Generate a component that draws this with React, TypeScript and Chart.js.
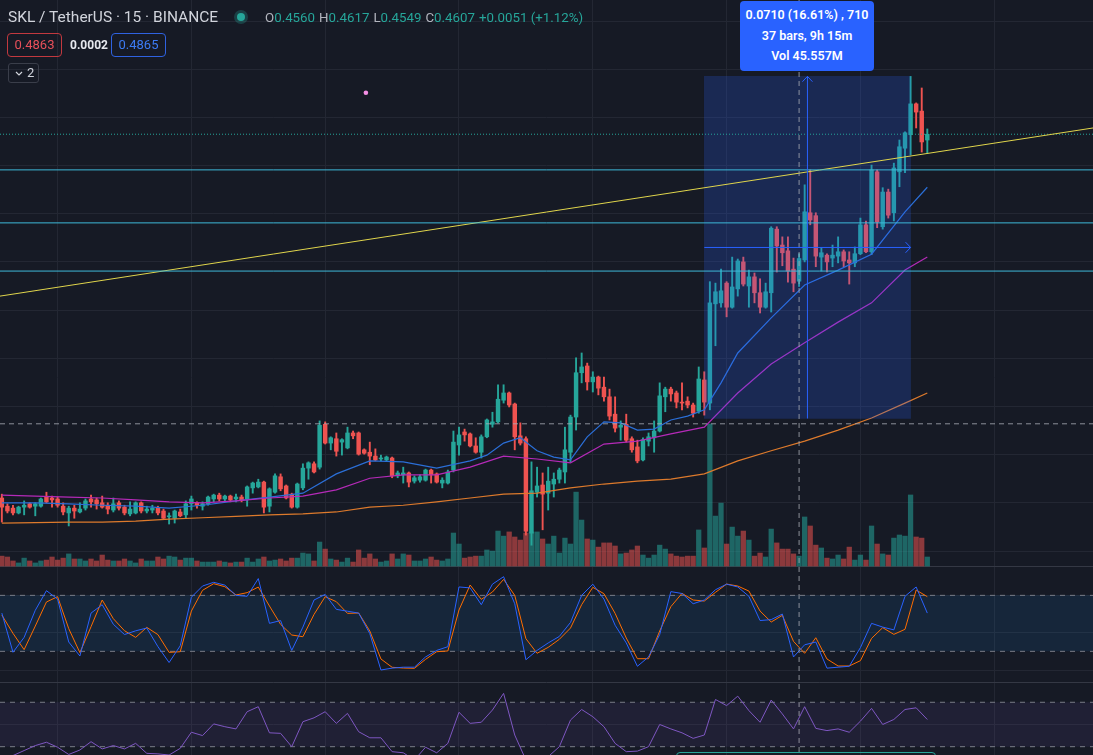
import React, { useEffect, useRef } from "react";
import { Chart, registerables } from "chart.js";

Chart.register(...registerables);

// ---------------- DATA (15m SKL / TetherUS, Binance) ----------------
const opens = [
  0.4110,0.4093,0.4089,0.4079,0.4091,0.4098,0.4093,0.4093,0.4112,0.4110,
  0.4108,0.4093,0.4079,0.4089,0.4081,0.4089,0.4108,0.4106,0.4100,0.4095,
  0.4085,0.4100,0.4091,0.4077,0.4079,0.4100,0.4083,0.4085,0.4089,0.4083,
  0.4071,0.4068,0.4081,0.4075,0.4098,0.4100,0.4093,0.4098,0.4108,0.4116,
  0.4108,0.4114,0.4108,0.4112,0.4108,0.4131,0.4133,0.4143,0.4093,0.4122,
  0.4154,0.4135,0.4118,0.4091,0.4131,0.4172,0.4181,0.4174,0.4263,0.4224,
  0.4233,0.4226,0.4214,0.4245,0.4245,0.4210,0.4205,0.4197,0.4191,0.4189,
  0.4193,0.4156,0.4158,0.4162,0.4145,0.4147,0.4147,0.4168,0.4160,0.4141,
  0.4141,0.4168,0.4220,0.4247,0.4243,0.4218,0.4205,0.4237,0.4263,0.4268,
  0.4313,0.4328,0.4305,0.4239,0.4233,0.4037,0.4122,0.4137,0.4120,0.4139,
  0.4149,0.4164,0.4205,0.4278,0.4370,0.4384,0.4351,0.4361,0.4340,0.4320,
  0.4284,0.4257,0.4263,0.4233,0.4216,0.4189,0.4228,0.4235,0.4249,0.4320,
  0.4336,0.4328,0.4309,0.4311,0.4303,0.4290,0.4355,0.4307,0.4513,0.4515,
  0.4556,0.4506,0.4544,0.4600,0.4550,0.4569,0.4536,0.4506,0.4536,0.4668,
  0.4635,0.4623,0.4585,0.4560,0.4604,0.4702,0.4696,0.4610,0.4614,0.4608,
  0.4612,0.4621,0.4604,0.4598,0.4617,0.4677,0.4621,0.4787,0.4673,0.4745,
  0.4702,0.4787,0.4836,0.4864,0.4928,0.4913,0.4853,
];
const highs = [
  0.4118,0.4098,0.4095,0.4093,0.4104,0.4100,0.4100,0.4110,0.4122,0.4114,
  0.4112,0.4100,0.4093,0.4095,0.4100,0.4108,0.4116,0.4110,0.4114,0.4100,
  0.4110,0.4104,0.4095,0.4102,0.4102,0.4102,0.4093,0.4095,0.4093,0.4087,
  0.4079,0.4085,0.4087,0.4104,0.4114,0.4102,0.4102,0.4114,0.4118,0.4120,
  0.4116,0.4116,0.4118,0.4116,0.4135,0.4143,0.4149,0.4145,0.4131,0.4160,
  0.4160,0.4137,0.4120,0.4141,0.4181,0.4185,0.4185,0.4270,0.4268,0.4237,
  0.4245,0.4233,0.4257,0.4249,0.4247,0.4212,0.4226,0.4212,0.4199,0.4197,
  0.4195,0.4166,0.4174,0.4164,0.4156,0.4158,0.4170,0.4170,0.4162,0.4152,
  0.4168,0.4249,0.4257,0.4253,0.4245,0.4235,0.4241,0.4274,0.4288,0.4345,
  0.4345,0.4330,0.4307,0.4266,0.4237,0.4185,0.4174,0.4162,0.4174,0.4162,
  0.4172,0.4257,0.4282,0.4401,0.4411,0.4390,0.4372,0.4363,0.4361,0.4336,
  0.4320,0.4270,0.4284,0.4237,0.4230,0.4235,0.4245,0.4270,0.4349,0.4340,
  0.4340,0.4332,0.4349,0.4320,0.4307,0.4382,0.4372,0.4559,0.4556,0.4585,
  0.4559,0.4610,0.4606,0.4610,0.4583,0.4577,0.4565,0.4556,0.4673,0.4673,
  0.4652,0.4652,0.4608,0.4617,0.4760,0.4791,0.4702,0.4629,0.4617,0.4635,
  0.4652,0.4625,0.4621,0.4631,0.4691,0.4685,0.4801,0.4791,0.4754,0.4751,
  0.4805,0.4853,0.4870,0.4985,0.4930,0.4961,0.4876,
];
const lows = [
  0.4060,0.4079,0.4075,0.4077,0.4075,0.4089,0.4073,0.4091,0.4100,0.4091,
  0.4091,0.4075,0.4052,0.4068,0.4079,0.4085,0.4091,0.4087,0.4089,0.4077,
  0.4081,0.4085,0.4075,0.4073,0.4077,0.4079,0.4079,0.4079,0.4075,0.4066,
  0.4056,0.4058,0.4071,0.4068,0.4085,0.4089,0.4085,0.4095,0.4102,0.4104,
  0.4104,0.4102,0.4102,0.4102,0.4093,0.4120,0.4131,0.4079,0.4081,0.4120,
  0.4125,0.4108,0.4089,0.4089,0.4127,0.4149,0.4162,0.4170,0.4222,0.4210,
  0.4197,0.4199,0.4212,0.4233,0.4199,0.4201,0.4179,0.4187,0.4187,0.4187,
  0.4152,0.4152,0.4141,0.4133,0.4141,0.4143,0.4145,0.4141,0.4141,0.4131,
  0.4139,0.4164,0.4199,0.4228,0.4216,0.4203,0.4193,0.4235,0.4257,0.4266,
  0.4307,0.4299,0.4210,0.4220,0.4033,0.4012,0.4112,0.4044,0.4085,0.4112,
  0.4141,0.4141,0.4185,0.4251,0.4349,0.4334,0.4330,0.4324,0.4311,0.4272,
  0.4247,0.4230,0.4226,0.4205,0.4183,0.4187,0.4218,0.4205,0.4247,0.4289,
  0.4311,0.4297,0.4293,0.4297,0.4278,0.4286,0.4282,0.4293,0.4426,0.4506,
  0.4486,0.4504,0.4529,0.4550,0.4506,0.4515,0.4494,0.4504,0.4496,0.4579,
  0.4592,0.4558,0.4538,0.4549,0.4600,0.4677,0.4590,0.4581,0.4579,0.4590,
  0.4598,0.4590,0.4554,0.4590,0.4615,0.4619,0.4615,0.4671,0.4668,0.4691,
  0.4685,0.4756,0.4785,0.4822,0.4878,0.4828,0.4826,
];
const closes = [
  0.4091,0.4083,0.4079,0.4091,0.4095,0.4091,0.4098,0.4108,0.4102,0.4106,
  0.4095,0.4081,0.4089,0.4083,0.4087,0.4104,0.4102,0.4098,0.4091,0.4087,
  0.4098,0.4089,0.4079,0.4087,0.4100,0.4083,0.4087,0.4089,0.4079,0.4068,
  0.4073,0.4083,0.4073,0.4098,0.4108,0.4095,0.4098,0.4112,0.4116,0.4108,
  0.4114,0.4106,0.4112,0.4106,0.4133,0.4141,0.4143,0.4091,0.4129,0.4156,
  0.4129,0.4110,0.4091,0.4139,0.4172,0.4183,0.4164,0.4261,0.4224,0.4235,
  0.4207,0.4231,0.4245,0.4239,0.4201,0.4203,0.4197,0.4189,0.4193,0.4195,
  0.4156,0.4162,0.4162,0.4143,0.4152,0.4154,0.4168,0.4158,0.4143,0.4147,
  0.4164,0.4226,0.4241,0.4241,0.4218,0.4205,0.4237,0.4272,0.4268,0.4315,
  0.4328,0.4303,0.4237,0.4224,0.4041,0.4125,0.4135,0.4118,0.4145,0.4149,
  0.4168,0.4210,0.4278,0.4370,0.4382,0.4351,0.4361,0.4338,0.4320,0.4280,
  0.4255,0.4261,0.4230,0.4210,0.4187,0.4231,0.4237,0.4249,0.4322,0.4336,
  0.4326,0.4309,0.4307,0.4303,0.4286,0.4357,0.4309,0.4515,0.4538,0.4540,
  0.4506,0.4548,0.4602,0.4554,0.4569,0.4536,0.4506,0.4538,0.4670,0.4633,
  0.4619,0.4581,0.4556,0.4607,0.4704,0.4687,0.4612,0.4619,0.4600,0.4614,
  0.4621,0.4602,0.4598,0.4617,0.4677,0.4621,0.4791,0.4683,0.4745,0.4697,
  0.4795,0.4839,0.4868,0.4928,0.4911,0.4849,0.4865,
];
// volume, millions
const volumes = [
  0.45,0.41,0.23,0.14,0.36,0.23,0.14,0.23,0.27,0.41,
  0.27,0.36,0.55,0.32,0.32,0.23,0.32,0.23,0.50,0.27,
  0.23,0.23,0.32,0.23,0.14,0.32,0.23,0.23,0.41,0.32,
  0.45,0.41,0.27,0.36,0.36,0.23,0.18,0.18,0.18,0.23,
  0.18,0.14,0.18,0.18,0.36,0.18,0.32,0.41,0.23,0.27,
  0.32,0.23,0.36,0.36,0.59,0.55,0.23,1.09,0.77,0.32,
  0.27,0.18,0.36,0.18,0.73,0.36,0.55,0.32,0.18,0.23,
  0.55,0.32,0.55,0.50,0.23,0.23,0.32,0.41,0.27,0.23,
  0.32,1.50,1.00,0.36,0.41,0.45,0.45,0.73,0.68,1.59,
  1.36,1.55,1.32,1.18,1.50,1.55,1.55,1.23,1.00,1.36,
  0.59,1.27,1.00,3.36,2.09,1.23,1.18,0.86,1.05,1.05,
  0.91,0.55,0.59,0.73,0.91,0.50,0.36,0.50,0.95,0.77,
  0.55,0.45,0.41,0.45,0.45,1.64,0.82,6.45,2.27,2.86,
  1.00,1.77,1.36,1.59,1.18,0.45,0.59,0.41,1.68,1.05,
  0.77,0.77,0.55,0.45,2.23,1.82,0.95,0.82,0.36,0.32,
  0.50,0.32,0.86,0.27,0.50,0.27,1.82,1.00,0.55,0.50,
  1.27,1.41,1.36,3.23,1.32,1.27,0.41,
];

// moving averages (bar index -> value)
const maIdx = [0,6,12,18,24,30,36,42,48,54,60,66,72,78,84,90,96,102,108,114,120,126,132,138,144,150,156,162,166];
const maSlow = [0.4058,0.4059,0.4060,0.4060,0.4062,0.4066,0.4069,0.4072,0.4075,0.4077,0.4081,0.4091,0.4095,0.4102,0.4110,0.4118,0.4120,0.4131,0.4139,0.4145,0.4149,0.4160,0.4187,0.4208,0.4228,0.4251,0.4276,0.4307,0.4328];
const maMid = [0.4116,0.4114,0.4112,0.4110,0.4106,0.4102,0.4100,0.4104,0.4110,0.4114,0.4127,0.4151,0.4158,0.4158,0.4174,0.4197,0.4191,0.4183,0.4222,0.4228,0.4243,0.4257,0.4328,0.4388,0.4432,0.4475,0.4515,0.4583,0.4610];
const emaIdx = [0,6,12,18,24,30,36,42,48,54,60,66,72,78,84,87,90,93,96,99,102,105,108,111,114,117,120,123,126,129,132,138,144,150,156,162,166];
const maFast = [0.4100,0.4100,0.4098,0.4095,0.4093,0.4089,0.4095,0.4104,0.4112,0.4120,0.4160,0.4187,0.4185,0.4172,0.4187,0.4199,0.4224,0.4235,0.4208,0.4195,0.4189,0.4237,0.4268,0.4266,0.4251,0.4253,0.4272,0.4280,0.4293,0.4349,0.4411,0.4484,0.4552,0.4583,0.4616,0.4704,0.4755];

// oscillators, sampled every second bar (0,2,4 ... 166)
const stochK = [61,19,35,64,85,76,30,15,61,70,49,38,42,45,25,8,26,78,90,94,91,80,79,98,50,53,21,46,75,81,65,63,61,39,0,2,3,3,14,21,25,89,88,70,92,100,71,11,21,
  29,36,51,80,92,76,48,29,4,14,38,84,82,71,75,86,92,89,79,53,54,60,14,27,30,2,3,4,24,50,46,43,79,89,61];
const stochD = [58.9,39.3,21.8,47.1,72.9,78.6,44.3,18.6,46.4,75,55,42.1,35,45.7,37.9,18.9,19.6,63.2,85.4,92.5,89.3,80.4,82.9,88.9,68.6,48.9,37.5,35.7,59.6,78.6,73.2,60.7,61.1,41.8,11.8,2.9,2.1,1.8,11.4,19.6,20.4,64.3,91.1,75.7,83.6,97.1,80,33.6,17.9,
  24.3,32.9,45,70,88.6,81.8,60.7,34.3,12.1,12.1,41.8,67.9,82.1,75,73.9,83.2,92.1,90,84.6,63.2,51.4,58.6,30.7,17.9,34.6,11.8,4.3,4.3,10,33.9,45.4,38.2,43.6,85.7,78.6];
const rsi = [18,22,26.5,31,34,29.5,23,27,34.5,28,31,28,33,24,23.5,22.5,28.5,43,40,50.5,48,46,61.5,66,42.5,42,30,52.5,56,61.5,51,60,43.5,38,38,25.5,24.5,18,29.5,24.5,33,61,51,52,63,78,40.5,18,15,
  21,30,54,63.5,57,48,33,25.5,26,30,50,46,42.5,37.5,40.5,72.5,67,75.5,62.5,52,72,59.5,46,66,46.5,44.5,46,43,53,64.5,50,54.5,63.5,65,54.5];

// drawings / reference values
const levelPrices = [0.4791, 0.4681, 0.4581];
const trendFrom = 0.4529;
const trendTo = 0.4878;
const lastPrice = 0.4865;
const bidPrice = "0.4863";
const spread = "0.0002";
const askPrice = "0.4865";
const crossBar = 143;
const crossPrice = 0.4264;
const measureFrom = 126;
const measureTo = 163;
const measureLow = 0.4275;
const measureHigh = 0.4985;
const measureVolume = "45.557M";
const markerPoint = { x: 65.3, y: 0.4951 };

const priceGrid = [0.40, 0.41, 0.42, 0.43, 0.44, 0.45, 0.46, 0.47, 0.48, 0.49, 0.50, 0.51];
const timeGrid = [22, 46, 70, 94, 118, 142, 166, 190];
const stochGrid = [0, 40, 80];
const rsiGrid = [50];

// ---------------- LAYOUT ----------------
const W = 1093;
const H = 755;
const X_MIN = -0.33, X_MAX = 195.72;
const PRICE_MIN = 0.35766, PRICE_MAX = 0.51436;
const VOL_MIN = -8.59, VOL_MAX = 25.73;
const ST_MIN = -91.1, ST_MAX = 718.1;
const RSI_MIN = 22.5, RSI_MAX = 702.7;
const PANE_SEP_TOP = 110.9;
const PANE_SEP_BOTTOM = -12.9;

const BG = "#161a25";
const GRID = "#232733";
const SEP = "#343844";
const TEAL = "#26a69a";
const RED = "#ef5350";
const DASH = "#787b86";
const CROSS = "rgba(170,173,182,0.8)";
const ARROW = "#2962ff";
const FONT = "Roboto, 'Noto Sans', Arial, sans-serif";

export default function App() {
  const canvasRef = useRef<HTMLCanvasElement | null>(null);

  useEffect(() => {
    const canvas = canvasRef.current;
    if (!canvas) return;
    const barIdx = opens.map((_, i) => i);
    const up = barIdx.map((i) => closes[i] >= opens[i]);
    const candleCol = up.map((u) => (u ? TEAL : RED));
    const volCol = up.map((u) => (u ? "rgba(38,166,154,0.55)" : "rgba(239,83,80,0.55)"));
    const span = (v: number) => [{ x: X_MIN, y: v }, { x: X_MAX, y: v }];
    const ln = (o: any) => ({ type: "line", pointRadius: 0, borderWidth: 1, tension: 0, fill: false, ...o });
    const oscIdx: number[] = [];
    for (let i = 0; i < opens.length; i += 2) oscIdx.push(i);
    const pxPerBar = W / (X_MAX - X_MIN);
    const mid = (measureFrom + measureTo) / 2;
    const midPrice = (measureLow + measureHigh) / 2;
    const headX = 0.9;
    const headY = 0.0011;

    const datasets: any[] = [
      ln({ yAxisID: "yS", data: span(80), borderColor: DASH, borderDash: [5, 5], order: 30 }),
      ln({ yAxisID: "yS", data: span(20), borderColor: DASH, borderDash: [5, 5], fill: "-1", backgroundColor: "rgba(33,150,243,0.1)", order: 30 }),
      ln({ yAxisID: "yR", data: span(70), borderColor: DASH, borderDash: [5, 5], order: 30 }),
      ln({ yAxisID: "yR", data: span(30), borderColor: DASH, borderDash: [5, 5], fill: "-1", backgroundColor: "rgba(126,87,194,0.1)", order: 30 }),
      {
        type: "bar", yAxisID: "yV", grouped: false, barThickness: 4.6, order: 25,
        data: barIdx.map((i) => ({ x: i, y: volumes[i] })), backgroundColor: volCol,
      },
      {
        type: "bar", yAxisID: "yP", grouped: false, barThickness: 1.25, order: 21,
        data: barIdx.map((i) => ({ x: i, y: [lows[i], highs[i]] })), backgroundColor: candleCol,
      },
      {
        type: "bar", yAxisID: "yP", grouped: false, barThickness: 3.8, minBarLength: 1, order: 20,
        data: barIdx.map((i) => ({ x: i, y: [opens[i], closes[i]] })), backgroundColor: candleCol,
      },
      ln({ yAxisID: "yP", data: maIdx.map((x, k) => ({ x, y: maSlow[k] })), borderColor: "#dd7a2c", borderWidth: 1.2, order: 15 }),
      ln({ yAxisID: "yP", data: maIdx.map((x, k) => ({ x, y: maMid[k] })), borderColor: "#b52ab8", borderWidth: 1.2, order: 15 }),
      ln({ yAxisID: "yP", data: emaIdx.map((x, k) => ({ x, y: maFast[k] })), borderColor: "#2b6fd8", borderWidth: 1.2, order: 15 }),
      ln({ yAxisID: "yS", data: oscIdx.map((x, k) => ({ x, y: stochD[k] })), borderColor: "#ff6d00", order: 14 }),
      ln({ yAxisID: "yS", data: oscIdx.map((x, k) => ({ x, y: stochK[k] })), borderColor: "#2962ff", order: 13 }),
      ln({ yAxisID: "yR", data: oscIdx.map((x, k) => ({ x, y: rsi[k] })), borderColor: "#7e57c2", order: 13 }),
      {
        type: "bar", yAxisID: "yP", grouped: false, order: 8,
        barThickness: (measureTo - measureFrom) * pxPerBar,
        data: [{ x: mid, y: [measureLow, measureHigh] }], backgroundColor: "rgba(41,98,255,0.21)",
      },
      ...levelPrices.map((p) => ln({ yAxisID: "yP", data: span(p), borderColor: "#3eb9d8", order: 6 })),
      ln({ yAxisID: "yP", data: [{ x: X_MIN, y: trendFrom }, { x: X_MAX, y: trendTo }], borderColor: "#e0d54c", order: 6 }),
      ln({ yAxisID: "yP", data: span(lastPrice), borderColor: TEAL, borderDash: [1, 2], order: 6 }),
      ln({ yAxisID: "yP", data: span(crossPrice), borderColor: CROSS, borderDash: [5, 4], order: 5 }),
      ln({ yAxisID: "yP", data: [{ x: crossBar, y: PRICE_MAX }, { x: crossBar, y: PRICE_MIN }], borderColor: CROSS, borderDash: [5, 4], order: 5 }),
      ln({ yAxisID: "yP", data: [{ x: mid, y: measureLow }, { x: mid, y: measureHigh }], borderColor: ARROW, order: 4 }),
      ln({ yAxisID: "yP", data: [{ x: mid - headX, y: measureHigh - headY }, { x: mid, y: measureHigh }, { x: mid + headX, y: measureHigh - headY }], borderColor: ARROW, order: 4 }),
      ln({ yAxisID: "yP", data: [{ x: measureFrom, y: midPrice }, { x: measureTo, y: midPrice }], borderColor: ARROW, order: 4 }),
      ln({ yAxisID: "yP", data: [{ x: measureTo - headX, y: midPrice + headY }, { x: measureTo, y: midPrice }, { x: measureTo - headX, y: midPrice - headY }], borderColor: ARROW, order: 4 }),
      { type: "scatter", yAxisID: "yP", data: [markerPoint], pointRadius: 2.3, backgroundColor: "#f48fe4", borderWidth: 0, order: 3 },
    ];

    const hidden = { display: false };
    const yBase = (min: number, max: number, ticks: number[], color: any) => ({
      type: "linear", position: "right", min, max,
      ticks: { display: false },
      border: hidden,
      grid: { color, drawTicks: false, lineWidth: 1 },
      afterBuildTicks: (s: any) => { s.ticks = ticks.map((v) => ({ value: v })); },
      afterFit: (s: any) => { s.width = 0; },
    });

    const chart = new Chart(canvas, {
      type: "line",
      data: { datasets },
      options: {
        animation: false,
        responsive: false,
        events: [],
        layout: { padding: 0, autoPadding: false },
        plugins: { legend: { display: false }, tooltip: { enabled: false } },
        scales: {
          x: {
            type: "linear", min: X_MIN, max: X_MAX, offset: false,
            ticks: { display: false }, border: hidden,
            grid: { color: GRID, drawTicks: false, lineWidth: 1 },
            afterBuildTicks: (s: any) => { s.ticks = timeGrid.map((v) => ({ value: v })); },
            afterFit: (s: any) => { s.height = 0; },
          },
          yP: yBase(PRICE_MIN, PRICE_MAX, priceGrid, GRID),
          yV: { type: "linear", display: false, min: VOL_MIN, max: VOL_MAX },
          yS: yBase(ST_MIN, ST_MAX, [PANE_SEP_TOP, ...stochGrid, PANE_SEP_BOTTOM], (c: any) =>
            c.tick && (c.tick.value === PANE_SEP_TOP || c.tick.value === PANE_SEP_BOTTOM) ? SEP : GRID),
          yR: yBase(RSI_MIN, RSI_MAX, rsiGrid, GRID),
        },
      } as any,
    } as any);
    return () => chart.destroy();
  }, []);

  const b = crossBar;
  const chg = closes[b] - closes[b - 1];
  const pct = (chg / closes[b - 1]) * 100;
  const ohlc: [string, number][] = [["O", opens[b]], ["H", highs[b]], ["L", lows[b]], ["C", closes[b]]];
  const mChange = measureHigh - measureLow;
  const mPct = (mChange / measureLow) * 100;
  const mTicks = Math.round(mChange / 0.0001);
  const mBars = measureTo - measureFrom;
  const mMinutes = mBars * 15;

  return (
    <div style={{ position: "fixed", left: 0, top: 0, width: W, height: H, background: BG, overflow: "hidden", fontFamily: FONT }}>
      <canvas ref={canvasRef} width={W} height={H} style={{ position: "absolute", left: 0, top: 0, width: W, height: H, display: "block" }} />
      <div style={{ position: "absolute", left: 8, top: 7, fontSize: 15.5, lineHeight: "20px", color: "#d1d4dc", whiteSpace: "nowrap" }}>
        SKL / TetherUS · 15 · BINANCE
      </div>
      <div style={{ position: "absolute", left: 234, top: 10, width: 14, height: 14, borderRadius: 7, background: "rgba(38,166,154,0.28)" }}>
        <div style={{ position: "absolute", left: 3, top: 3, width: 8, height: 8, borderRadius: 4, background: TEAL }} />
      </div>
      <div style={{ position: "absolute", left: 265, top: 8, fontSize: 13.3, lineHeight: "20px", color: TEAL, whiteSpace: "nowrap" }}>
        {ohlc.map(([k, v]) => (
          <span key={k} style={{ marginRight: 4 }}>
            <span style={{ color: "#b2b5be" }}>{k}</span>{v.toFixed(4)}
          </span>
        ))}
        <span>{(chg >= 0 ? "+" : "") + chg.toFixed(4)} ({(pct >= 0 ? "+" : "") + pct.toFixed(2)}%)</span>
      </div>
      <div style={{ position: "absolute", left: 7, top: 33, width: 53, height: 22, border: "1px solid #c2393f", borderRadius: 4, color: "#e8505a", fontSize: 13, lineHeight: "22px", textAlign: "center" }}>
        {bidPrice}
      </div>
      <div style={{ position: "absolute", left: 70, top: 34, fontSize: 12, lineHeight: "22px", color: "#e6e8ee", fontWeight: 700 }}>
        {spread}
      </div>
      <div style={{ position: "absolute", left: 111, top: 33, width: 53, height: 22, border: "1px solid #2f62e0", borderRadius: 4, color: "#3c7bf4", fontSize: 13, lineHeight: "22px", textAlign: "center" }}>
        {askPrice}
      </div>
      <div style={{ position: "absolute", left: 8, top: 63, width: 29, height: 18, border: "1px solid #3a3e4a", borderRadius: 3, color: "#d1d4dc", fontSize: 13, lineHeight: "18px" }}>
        <svg width="8" height="6" style={{ position: "absolute", left: 6, top: 7 }}>
          <polyline points="1,1 4,4 7,1" fill="none" stroke="#d1d4dc" strokeWidth="1.2" />
        </svg>
        <span style={{ position: "absolute", left: 18 }}>2</span>
      </div>
      <div style={{ position: "absolute", left: 740, top: 1, width: 134, height: 70, background: "#2962ff", borderRadius: 4, color: "#ffffff", fontSize: 12.5, fontWeight: 600, lineHeight: "20.5px", textAlign: "center", paddingTop: 4, boxSizing: "border-box" }}>
        <div>{mChange.toFixed(4)} ({mPct.toFixed(2)}%) , {mTicks}</div>
        <div>{mBars} bars, {Math.floor(mMinutes / 60)}h {mMinutes % 60}m</div>
        <div>Vol {measureVolume}</div>
      </div>
      <div style={{ position: "absolute", left: 676, top: 752, width: 258, height: 12, border: "1px solid #26a69a", borderRadius: 4 }} />
    </div>
  );
}
